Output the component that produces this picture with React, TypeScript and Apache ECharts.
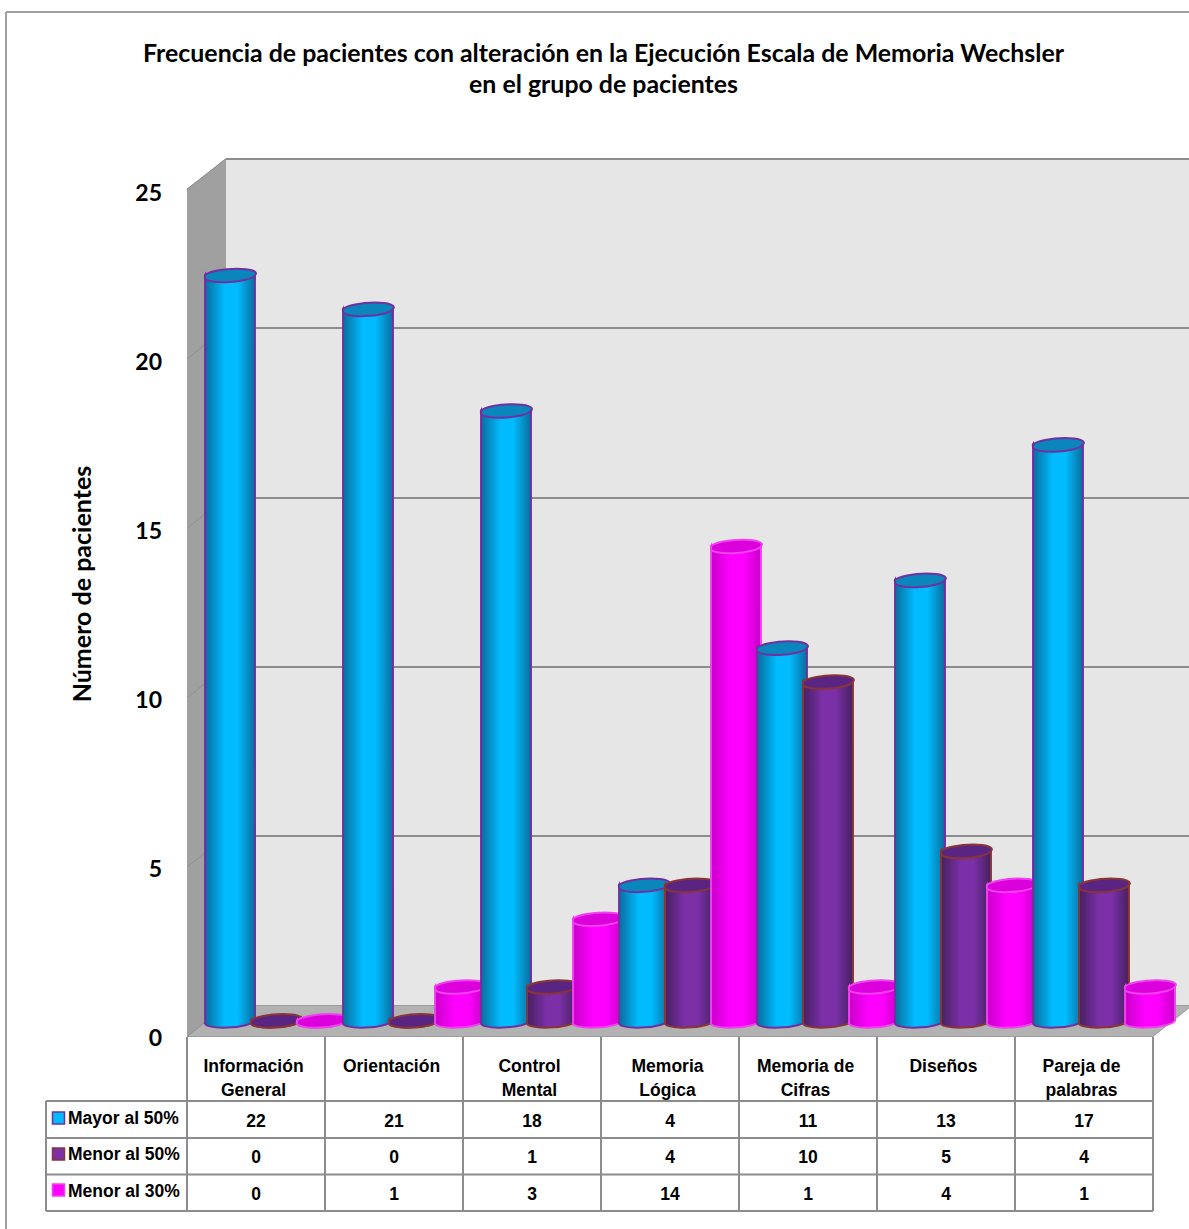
import React, { useEffect, useRef } from "react";
import * as echarts from "echarts";

const categories = [
  "Información\nGeneral",
  "Orientación",
  "Control\nMental",
  "Memoria\nLógica",
  "Memoria de\nCifras",
  "Diseños",
  "Pareja de\npalabras",
];
const seriesNames = ["Mayor al 50%", "Menor al 50%", "Menor al 30%"];
const mayor50 = [22, 21, 18, 4, 11, 13, 17];
const menor50 = [0, 0, 1, 4, 10, 5, 4];
const menor30 = [0, 1, 3, 14, 1, 4, 1];
const yTicks = [0, 5, 10, 15, 20, 25];
const titleText =
  "Frecuencia de pacientes con alteración en la Ejecución Escala de Memoria Wechsler\nen el grupo de pacientes";
const yAxisTitle = "Número de pacientes";

const palettes = [
  { edge: "#0a6c9c", mid: "#00bcff", top: "#0a86bc", stroke: "#7030a0" },
  { edge: "#45205f", mid: "#7b30a8", top: "#5a2482", stroke: "#8a3535" },
  { edge: "#c800c8", mid: "#ff00ff", top: "#dc00dc", stroke: "#f040f0" },
];

const GRID_LINE = "#8c8c8c";
const DEPTH_X = 39;
const DEPTH_Y = 31;
const BAR_STEP = 46;
const RX = 25;
const RY = 6;
const TILT_DEG = -4;

// One cylinder: body with rounded bottom plus a separate tilted top ellipse.
function cylinderItem(seriesIndex: number) {
  return (params: any, api: any) => {
    const cat = api.value(0);
    const val = api.value(1);
    const [baseX, baseY] = api.coord([cat, 0]);
    const [, topY] = api.coord([cat, val]);
    const cx = baseX - DEPTH_X / 2 + (seriesIndex - 1) * BAR_STEP + 0.5;
    const yBase = baseY + DEPTH_Y / 2 - 0.5;
    const yTop = topY + DEPTH_Y / 2 - 0.5;
    const t = (Math.abs(TILT_DEG) * Math.PI) / 180;
    const dx = RX * Math.cos(t);
    const dy = RX * Math.sin(t);
    const arc = `A${RX} ${RY} ${TILT_DEG}`;
    const body =
      `M${cx - dx} ${yTop + dy}L${cx - dx} ${yBase + dy}` +
      `${arc} 0 0 ${cx + dx} ${yBase - dy}L${cx + dx} ${yTop - dy}` +
      `${arc} 0 1 ${cx - dx} ${yTop + dy}Z`;
    const cap =
      `M${cx - dx} ${yTop + dy}${arc} 0 0 ${cx + dx} ${yTop - dy}` +
      `${arc} 0 0 ${cx - dx} ${yTop + dy}Z`;
    const p = palettes[seriesIndex];
    const z2 = cat * 3 + seriesIndex;
    return {
      type: "group",
      children: [
        {
          type: "path",
          z2,
          shape: { pathData: body },
          style: {
            fill: {
              type: "linear",
              x: 0,
              y: 0,
              x2: 1,
              y2: 0,
              colorStops: [
                { offset: 0, color: p.edge },
                { offset: 0.4, color: p.mid },
                { offset: 0.65, color: p.mid },
                { offset: 1, color: p.edge },
              ],
            },
            stroke: p.stroke,
            lineWidth: 2,
          },
        },
        {
          type: "path",
          z2,
          shape: { pathData: cap },
          style: { fill: p.top, stroke: p.stroke, lineWidth: 2 },
        },
      ],
    };
  };
}

// Left wall and floor of the box, with the grid lines carried over the wall.
function wallItem(params: any, api: any) {
  const rect = params.coordSys;
  const x = rect.x;
  const y = rect.y;
  const r = rect.x + rect.width;
  const b = rect.y + rect.height;
  const children: any[] = [];
  if (params.dataIndex === 0) {
    children.push({
      type: "polygon",
      shape: {
        points: [
          [x, y],
          [x, b],
          [x - DEPTH_X, b + DEPTH_Y],
          [x - DEPTH_X, y + DEPTH_Y - 1],
        ],
      },
      style: { fill: "#a0a0a0" },
    });
    children.push({
      type: "polygon",
      shape: {
        points: [
          [x, b],
          [r, b],
          [r - DEPTH_X, b + DEPTH_Y],
          [x - DEPTH_X, b + DEPTH_Y],
        ],
      },
      style: { fill: "#b2b2b2", stroke: "#9c9c9c", lineWidth: 1 },
    });
  }
  const [, ty] = api.coord([0, api.value(0)]);
  children.push({
    type: "line",
    shape: { x1: x, y1: ty, x2: x - DEPTH_X, y2: ty + DEPTH_Y },
    style: { stroke: "#8f8f8f", lineWidth: 1 },
  });
  return { type: "group", children };
}

// Data table under the plot, with the colour keys in its first column.
function tableGraphics() {
  const left = 46;
  const colX = categories.map((_, i) => 187 + i * 138);
  const right = 187 + categories.length * 138;
  const rowY = [1101, 1138, 1174.5, 1211];
  const rows = [mayor50, menor50, menor30];
  const els: any[] = [];
  const line = (x1: number, y1: number, x2: number, y2: number) =>
    els.push({
      type: "line",
      shape: { x1, y1, x2, y2 },
      style: { stroke: GRID_LINE, lineWidth: 2 },
    });
  rowY.forEach((y) => line(left, y, right, y));
  line(left, rowY[0], left, rowY[3]);
  [...colX, right].forEach((x) => line(x, 1037, x, rowY[3]));
  rows.forEach((vals, r) => {
    const p = palettes[r];
    const keyY = [1112, 1148, 1184][r];
    els.push({
      type: "rect",
      shape: { x: 52.5, y: keyY, width: 12, height: 12 },
      style: { fill: p.mid, stroke: p.stroke, lineWidth: 1.5 },
    });
    els.push({
      type: "text",
      x: 68,
      y: [1118, 1154, 1191][r],
      style: {
        text: seriesNames[r],
        font: 'bold 17.5px "Liberation Sans"',
        fill: "#000",
        textAlign: "left",
        textVerticalAlign: "middle",
      },
    });
    vals.forEach((v, i) => {
      els.push({
        type: "text",
        x: colX[i] + 69,
        y: (rowY[r] + rowY[r + 1]) / 2 + 1,
        style: {
          text: String(v),
          font: 'bold 17.5px "Liberation Sans"',
          fill: "#000",
          textAlign: "center",
          textVerticalAlign: "middle",
        },
      });
    });
  });
  return els;
}

export default function App() {
  const ref = useRef<HTMLDivElement>(null);
  useEffect(() => {
    const chart = echarts.init(ref.current!, undefined, { renderer: "svg" });
    const values = [mayor50, menor50, menor30];
    chart.setOption({
      animation: false,
      backgroundColor: "#fff",
      title: {
        text: titleText,
        left: 598.5,
        top: 31,
        textAlign: "center",
        textStyle: {
          fontFamily: "Lato",
          fontWeight: "bold",
          fontSize: 24.9,
          lineHeight: 31,
          color: "#000",
        },
      },
      grid: [
        // Front plane: carries the value labels and category names.
        { left: 187, top: 192, width: 966, height: 845, outerBoundsMode: "none" },
        // Back wall: carries the grid lines and the scale the cylinders use.
        {
          left: 226,
          top: 158.5,
          width: 966,
          height: 847,
          outerBoundsMode: "none",
          show: true,
          backgroundColor: "#e6e6e6",
          borderWidth: 0,
        },
      ],
      xAxis: [
        {
          type: "category",
          gridIndex: 0,
          data: categories,
          axisLine: { show: false },
          axisTick: { show: false },
          axisLabel: {
            interval: 0,
            margin: 17,
            verticalAlign: "top",
            fontFamily: "Liberation Sans",
            fontWeight: "bold",
            fontSize: 17.5,
            lineHeight: 24,
            color: "#000",
            padding: [0, 5, 0, 0],
          },
        },
        {
          type: "category",
          gridIndex: 1,
          data: categories,
          axisLine: { show: false },
          axisTick: { show: false },
          axisLabel: { show: false },
        },
      ],
      yAxis: [
        {
          type: "value",
          gridIndex: 0,
          min: 0,
          max: 25,
          interval: 5,
          axisLine: { show: false },
          axisTick: { show: false },
          splitLine: { show: false },
          axisLabel: {
            margin: 25,
            fontFamily: "Lato",
            fontWeight: "bold",
            fontSize: 23,
            color: "#000",
          },
        },
        {
          type: "value",
          gridIndex: 1,
          min: 0,
          max: 25,
          interval: 5,
          axisLine: { show: false },
          axisTick: { show: false },
          axisLabel: { show: false },
          splitLine: { show: true, lineStyle: { color: GRID_LINE, width: 2 } },
        },
      ],
      graphic: [
        {
          type: "line",
          shape: { x1: 6, y1: 1229, x2: 6, y2: 12 },
          style: { stroke: "#a0a0a0", lineWidth: 2 },
        },
        {
          type: "line",
          shape: { x1: 6, y1: 12, x2: 1189, y2: 12 },
          style: { stroke: "#a0a0a0", lineWidth: 2 },
        },
        {
          type: "text",
          x: 81,
          y: 584,
          rotation: Math.PI / 2,
          style: {
            text: yAxisTitle,
            font: 'bold 25px "Lato"',
            fill: "#000",
            textAlign: "center",
            textVerticalAlign: "middle",
          },
        },
        ...tableGraphics(),
      ],
      series: [
        {
          type: "custom",
          name: "Paredes",
          xAxisIndex: 1,
          yAxisIndex: 1,
          z: 1,
          silent: true,
          data: yTicks.map((t) => [t]),
          encode: { y: 0 },
          renderItem: wallItem,
        },
        ...seriesNames.map((name, s) => ({
          type: "custom",
          name,
          xAxisIndex: 1,
          yAxisIndex: 1,
          z: 3,
          data: values[s].map((v, i) => [i, v]),
          encode: { x: 0, y: 1 },
          renderItem: cylinderItem(s),
        })),
      ],
    });
    return () => chart.dispose();
  }, []);
  return (
    <div
      ref={ref}
      style={{ position: "absolute", left: 0, top: 0, width: 1189, height: 1229 }}
    />
  );
}
